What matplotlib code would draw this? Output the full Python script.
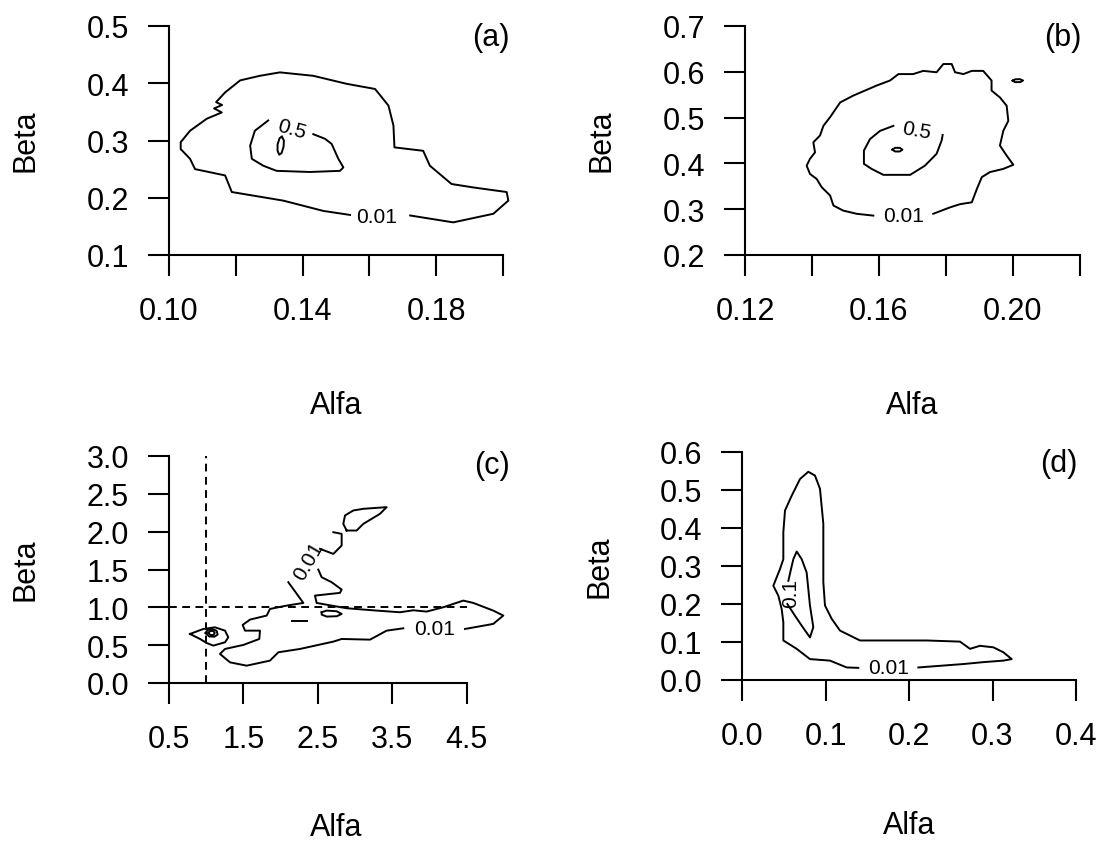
import matplotlib
matplotlib.use("Agg")
import matplotlib.pyplot as plt

plt.rcParams["font.family"] = ["Liberation Sans", "DejaVu Sans"]

W, H = 1100, 845

# (a) contour outlines (Alfa, Beta)
a_outer_x = [0.1542, 0.1462, 0.1342, 0.1188, 0.1168, 0.1078, 0.1063, 0.1035, 0.1035, 0.1063,
             0.1113, 0.1158, 0.1135, 0.1159, 0.1141, 0.1168, 0.1213, 0.1272, 0.1332, 0.1432,
             0.1532, 0.1617, 0.1657, 0.1672, 0.1675, 0.1761, 0.1781, 0.1846, 0.1911, 0.2011,
             0.2016, 0.1971, 0.1851, 0.1722]
a_outer_y = [0.170, 0.177, 0.195, 0.210, 0.239, 0.250, 0.268, 0.285, 0.297, 0.317,
             0.338, 0.349, 0.356, 0.362, 0.367, 0.384, 0.405, 0.413, 0.419, 0.413,
             0.399, 0.390, 0.361, 0.326, 0.288, 0.282, 0.256, 0.224, 0.218, 0.210,
             0.195, 0.172, 0.157, 0.169]
a_inner_x = [0.1297, 0.1257, 0.1243, 0.1248, 0.1282, 0.1322, 0.1422, 0.1512, 0.1522, 0.1507,
             0.1487, 0.1467, 0.1432]
a_inner_y = [0.335, 0.317, 0.291, 0.268, 0.256, 0.247, 0.245, 0.247, 0.253, 0.268,
             0.294, 0.303, 0.311]
a_peak_x = [0.1338, 0.1344, 0.1343, 0.1337, 0.1330, 0.1325, 0.1325, 0.1331, 0.1338]
a_peak_y = [0.3066, 0.3000, 0.2890, 0.2780, 0.2752, 0.2820, 0.2930, 0.3040, 0.3066]

# (b)
b_outer_x = [0.1583, 0.1533, 0.1493, 0.1464, 0.1454, 0.1429, 0.1414, 0.1394, 0.1384, 0.1394,
             0.1409, 0.1404, 0.1424, 0.1434, 0.1454, 0.1484, 0.1523, 0.1558, 0.1593, 0.1633,
             0.1658, 0.1702, 0.1732, 0.1772, 0.1792, 0.1817, 0.1827, 0.1852, 0.1877, 0.1911,
             0.1936, 0.1936, 0.1961, 0.1981, 0.1986, 0.1971, 0.1961, 0.1981, 0.2001, 0.1971,
             0.1931, 0.1907, 0.1892, 0.1877, 0.1842, 0.1812, 0.1762]
b_outer_y = [0.286, 0.290, 0.297, 0.308, 0.330, 0.348, 0.366, 0.377, 0.395, 0.410,
             0.424, 0.446, 0.461, 0.482, 0.501, 0.533, 0.548, 0.559, 0.570, 0.581,
             0.595, 0.595, 0.602, 0.599, 0.617, 0.617, 0.599, 0.595, 0.602, 0.602,
             0.581, 0.559, 0.544, 0.526, 0.493, 0.471, 0.439, 0.417, 0.397, 0.388,
             0.381, 0.370, 0.344, 0.315, 0.311, 0.304, 0.290]
b_inner_x = [0.1643, 0.1603, 0.1573, 0.1555, 0.1555, 0.1578, 0.1613, 0.1693, 0.1737, 0.1772,
             0.1787, 0.1790]
b_inner_y = [0.482, 0.471, 0.453, 0.428, 0.399, 0.388, 0.375, 0.375, 0.395, 0.421,
             0.450, 0.462]
b_spot_x = [0.1999, 0.2006, 0.2020, 0.2030, 0.2022, 0.2006, 0.1999]
b_spot_y = [0.5806, 0.5835, 0.5840, 0.5810, 0.5775, 0.5775, 0.5806]
b_peak_x = [0.1640, 0.1648, 0.1662, 0.1670, 0.1662, 0.1648, 0.1640]
b_peak_y = [0.4299, 0.4340, 0.4340, 0.4299, 0.4260, 0.4260, 0.4299]

# (c)
c_right_x = [2.507, 2.552, 2.686, 2.821, 2.798, 2.462, 2.485, 2.888, 3.291, 3.605,
             3.784, 3.963, 4.187, 4.322, 4.456, 4.591, 4.859, 4.994, 4.859, 4.479]
c_right_y = [1.499, 1.398, 1.332, 1.235, 1.191, 1.155, 1.058, 0.988, 0.957, 0.935,
             0.961, 0.944, 1.001, 1.045, 1.089, 1.058, 0.957, 0.891, 0.781, 0.714]
c_left_x = [2.104, 2.306, 2.082, 1.858, 1.813, 1.589, 1.490, 1.522, 1.723, 1.714,
            1.499, 1.253, 1.185, 1.320, 1.544, 1.858, 1.970, 2.261, 2.709, 2.821,
            3.202, 3.426, 3.650]
c_left_y = [1.332, 1.058, 1.023, 0.979, 0.891, 0.838, 0.767, 0.692, 0.692, 0.582,
            0.503, 0.450, 0.384, 0.273, 0.229, 0.296, 0.406, 0.450, 0.547, 0.582,
            0.573, 0.692, 0.723]
c_arm_x = [2.530, 2.709, 2.821, 2.821, 2.709]
c_arm_y = [1.773, 1.706, 1.817, 1.971, 1.993]
c_top_x = [2.888, 3.022, 3.112, 3.336, 3.426, 3.112, 2.978, 2.866, 2.843, 2.888]
c_top_y = [2.015, 2.015, 2.103, 2.236, 2.324, 2.302, 2.280, 2.214, 2.103, 2.015]
c_blob_x = [2.552, 2.619, 2.754, 2.821, 2.754, 2.619, 2.552, 2.552]
c_blob_y = [0.935, 0.957, 0.948, 0.913, 0.882, 0.878, 0.904, 0.935]
c_dash_x = [2.149, 2.350]
c_dash_y = [0.825, 0.825]
c_small_x = [0.782, 0.961, 1.118, 1.253, 1.297, 1.253, 1.096, 1.006, 0.917, 0.782]
c_small_y = [0.648, 0.714, 0.736, 0.692, 0.604, 0.538, 0.494, 0.529, 0.582, 0.648]
c_ring1_x = [0.992, 1.020, 1.080, 1.140, 1.154, 1.110, 1.040, 0.992]
c_ring1_y = [0.661, 0.700, 0.714, 0.690, 0.640, 0.612, 0.615, 0.661]
c_ring2_x = [1.030, 1.050, 1.090, 1.115, 1.100, 1.060, 1.030]
c_ring2_y = [0.661, 0.685, 0.690, 0.665, 0.635, 0.632, 0.661]
c_ref_alfa = 1.0
c_ref_beta = 1.0

# (d)
d_outer_x = [0.2112, 0.2651, 0.2890, 0.3130, 0.3230, 0.3130, 0.3010, 0.2850, 0.2731, 0.2611,
             0.2212, 0.1413, 0.1174, 0.1074, 0.0994, 0.0974, 0.0974, 0.0934, 0.0874, 0.0794,
             0.0695, 0.0595, 0.0515, 0.0495, 0.0495, 0.0455, 0.0375, 0.0435, 0.0475, 0.0495,
             0.0495, 0.0655, 0.0814, 0.1054, 0.1254, 0.1393]
d_outer_y = [0.033, 0.042, 0.047, 0.051, 0.055, 0.073, 0.086, 0.090, 0.082, 0.101,
             0.104, 0.104, 0.130, 0.161, 0.196, 0.257, 0.411, 0.503, 0.538, 0.548,
             0.529, 0.485, 0.446, 0.389, 0.318, 0.292, 0.248, 0.222, 0.187, 0.152,
             0.104, 0.082, 0.055, 0.051, 0.033, 0.032]
d_inner_x = [0.0543, 0.0635, 0.0715, 0.0814, 0.0854, 0.0814, 0.0794, 0.0774, 0.0715, 0.0655,
             0.0615, 0.0587, 0.0555]
d_inner_y = [0.200, 0.169, 0.143, 0.112, 0.139, 0.196, 0.240, 0.283, 0.318, 0.338,
             0.318, 0.292, 0.261]

# contour level labels: (panel, text, alfa, beta, angle)
level_labels = [
    ("a", "0.01", 0.1622, 0.168, 0),
    ("a", "0.5", 0.1367, 0.320, -16),
    ("b", "0.01", 0.1673, 0.287, 0),
    ("b", "0.5", 0.1713, 0.473, -10),
    ("c", "0.01", 4.075, 0.714, 0),
    ("c", "0.01", 2.373, 1.618, 60),
    ("d", "0.01", 0.1752, 0.033, 0),
    ("d", "0.1", 0.058, 0.230, 90),
]

# axis ticks
a_xticks = [0.10, 0.12, 0.14, 0.16, 0.18, 0.20]
a_xlabels = ["0.10", "", "0.14", "", "0.18", ""]
a_yticks = [0.1, 0.2, 0.3, 0.4, 0.5]
b_xticks = [0.12, 0.14, 0.16, 0.18, 0.20, 0.22]
b_xlabels = ["0.12", "", "0.16", "", "0.20", ""]
b_yticks = [0.2, 0.3, 0.4, 0.5, 0.6, 0.7]
c_xticks = [0.5, 1.5, 2.5, 3.5, 4.5]
c_xlabels = ["0.5", "1.5", "2.5", "3.5", "4.5"]
c_yticks = [0.0, 0.5, 1.0, 1.5, 2.0, 2.5, 3.0]
d_xticks = [0.0, 0.1, 0.2, 0.3, 0.4]
d_xlabels = ["0.0", "0.1", "0.2", "0.3", "0.4"]
d_yticks = [0.0, 0.1, 0.2, 0.3, 0.4, 0.5, 0.6]

fig = plt.figure(figsize=(W / 100, H / 100), dpi=100)


def add_panel(left, right, top, bottom):
    return fig.add_axes([left / W, 1 - bottom / H, (right - left) / W, (bottom - top) / H])


def style(ax, xlim, xticks, xlabels, yticks):
    ax.set_xlim(*xlim)
    ax.set_ylim(yticks[0], yticks[-1])
    ax.patch.set_visible(False)
    for s in ["top", "right"]:
        ax.spines[s].set_visible(False)
    for s in ["left", "bottom"]:
        ax.spines[s].set_linewidth(1.5)
    ax.spines["bottom"].set_bounds(xticks[0], xticks[-1])
    ax.spines["left"].set_bounds(yticks[0], yticks[-1])
    ax.set_xticks(xticks)
    ax.set_xticklabels(xlabels)
    ax.set_yticks(yticks)
    ax.set_yticklabels([f"{v:.1f}" for v in yticks])
    ax.tick_params(direction="out", length=14.8, width=1.5, labelsize=22, colors="black")
    ax.tick_params(axis="x", pad=15)
    ax.tick_params(axis="y", pad=14)


def line(ax, xs, ys, **kw):
    ax.plot(xs, ys, color="black", lw=1.4, clip_on=False, **kw)


ax_a = add_panel(169, 503, 27, 256)
ax_b = add_panel(745, 1080, 27, 256)
ax_c = add_panel(169, 503, 457, 684)
ax_d = add_panel(742, 1076, 453, 681)

style(ax_a, (0.10, 0.20), a_xticks, a_xlabels, a_yticks)
style(ax_b, (0.12, 0.22), b_xticks, b_xlabels, b_yticks)
style(ax_c, (0.5, 4.99), c_xticks, c_xlabels, c_yticks)
style(ax_d, (0.0, 0.4), d_xticks, d_xlabels, d_yticks)

line(ax_a, a_outer_x, a_outer_y)
line(ax_a, a_inner_x, a_inner_y)
line(ax_a, a_peak_x, a_peak_y)

line(ax_b, b_outer_x, b_outer_y)
line(ax_b, b_inner_x, b_inner_y)
line(ax_b, b_spot_x, b_spot_y)
line(ax_b, b_peak_x, b_peak_y)

for xs, ys in [(c_right_x, c_right_y), (c_left_x, c_left_y), (c_arm_x, c_arm_y),
               (c_top_x, c_top_y), (c_blob_x, c_blob_y), (c_dash_x, c_dash_y),
               (c_small_x, c_small_y), (c_ring1_x, c_ring1_y), (c_ring2_x, c_ring2_y)]:
    line(ax_c, xs, ys)
line(ax_c, [c_ref_alfa, c_ref_alfa], [c_yticks[0], c_yticks[-1]], ls=(0, (4, 2.8)))
line(ax_c, [c_xticks[0], c_xticks[-1]], [c_ref_beta, c_ref_beta], ls=(0, (4, 2.8)))

line(ax_d, d_outer_x, d_outer_y)
line(ax_d, d_inner_x, d_inner_y)

panels = {"a": ax_a, "b": ax_b, "c": ax_c, "d": ax_d}
for key, txt, lx, ly, ang in level_labels:
    panels[key].text(lx, ly, txt, fontsize=15, ha="center", va="center",
                     rotation=ang, rotation_mode="anchor")


def fig_text(x, y, s, **kw):
    fig.text(x / W, 1 - y / H, s, fontsize=22, **kw)


# axis titles and panel tags
for cx, base in [(336, 414), (912, 414), (336, 836), (909, 834)]:
    fig_text(cx, base, "Alfa", ha="center", va="baseline")
for cx, cy in [(26, 141), (602, 141), (26, 570), (599, 567)]:
    fig_text(cx, cy, "Beta", ha="center", va="center", rotation=90)
for rx, base, tag in [(510, 46, "(a)"), (1082, 46, "(b)"), (510, 474, "(c)"), (1078, 472, "(d)")]:
    fig_text(rx, base, tag, ha="right", va="baseline")

fig.savefig("out.png", dpi=100)
